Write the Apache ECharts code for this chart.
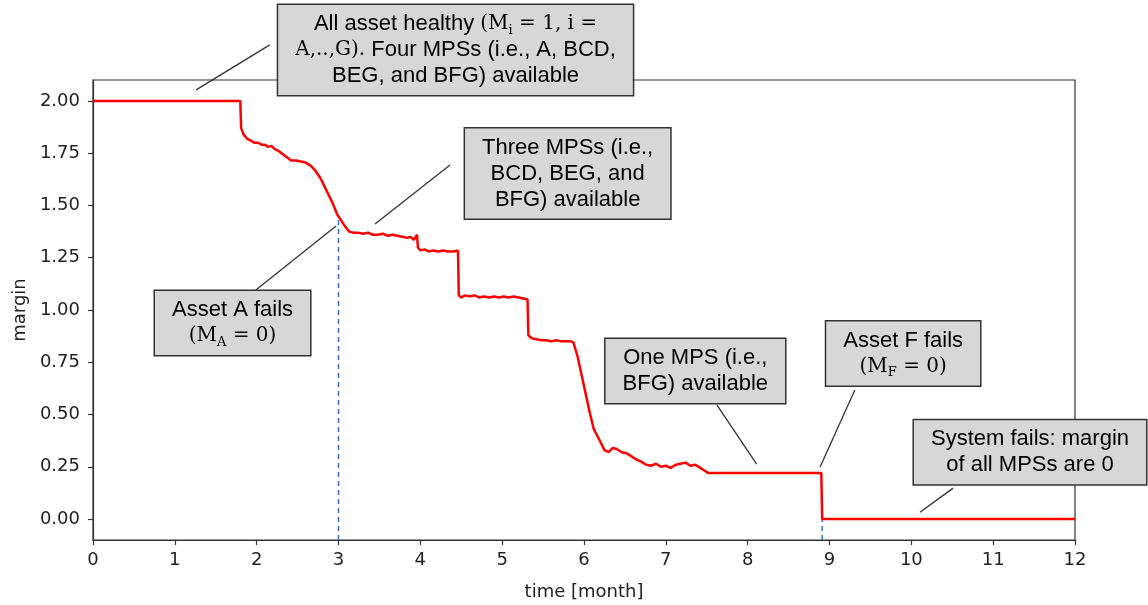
<!DOCTYPE html>
<html>
<head>
<meta charset="utf-8">
<script src="https://cdn.jsdelivr.net/npm/echarts@6/dist/echarts.min.js"></script>
<style>
  html, body { margin: 0; padding: 0; background: #fff; }
  #chart { width: 1148px; height: 605px; }
</style>
</head>
<body>
<div id="chart"></div>
<script>
// Margin of the system over time (months)
const timeMonths = [
  0, 1.80, 1.81, 1.84, 1.88, 1.93, 1.97, 2.02, 2.06, 2.10, 2.14, 2.18, 2.22, 2.27, 2.32, 2.37,
  2.42, 2.48, 2.54, 2.60, 2.66, 2.72, 2.78, 2.83, 2.88, 2.93, 2.98, 3.03, 3.08, 3.13, 3.18,
  3.24, 3.30, 3.36, 3.42, 3.48, 3.54, 3.60, 3.66, 3.72, 3.78, 3.84, 3.88, 3.92, 3.96, 3.97,
  4.00, 4.05, 4.10, 4.16, 4.22, 4.28, 4.34, 4.40, 4.46, 4.47, 4.50, 4.55, 4.60, 4.66, 4.72,
  4.78, 4.84, 4.90, 4.96, 5.02, 5.08, 5.14, 5.20, 5.26, 5.31, 5.32, 5.36, 5.42, 5.48, 5.54,
  5.60, 5.66, 5.72, 5.78, 5.84, 5.87, 5.92, 5.97, 6.02, 6.07, 6.12, 6.16, 6.20, 6.25, 6.30,
  6.35, 6.40, 6.46, 6.52, 6.58, 6.64, 6.70, 6.76, 6.82, 6.88, 6.94, 7.00, 7.06, 7.12, 7.18,
  7.24, 7.30, 7.36, 7.42, 7.48, 7.52, 7.60, 8.90, 8.91, 12
];
const marginValues = [
  2.00, 2.00, 1.87, 1.84, 1.82, 1.81, 1.80, 1.80, 1.79, 1.79, 1.78, 1.785, 1.77, 1.76, 1.745, 1.73,
  1.715, 1.715, 1.71, 1.705, 1.69, 1.665, 1.63, 1.59, 1.55, 1.51, 1.46, 1.43, 1.40, 1.375, 1.37,
  1.37, 1.365, 1.37, 1.36, 1.36, 1.365, 1.355, 1.36, 1.355, 1.35, 1.345, 1.35, 1.335, 1.36, 1.30,
  1.285, 1.29, 1.28, 1.285, 1.28, 1.285, 1.28, 1.28, 1.285, 1.07, 1.06, 1.07, 1.065, 1.07, 1.06,
  1.065, 1.06, 1.065, 1.06, 1.065, 1.06, 1.065, 1.06, 1.055, 1.05, 0.88, 0.865, 0.86, 0.855, 0.855,
  0.85, 0.855, 0.85, 0.85, 0.85, 0.845, 0.78, 0.69, 0.60, 0.51, 0.43, 0.40, 0.37, 0.33, 0.32,
  0.34, 0.335, 0.32, 0.315, 0.30, 0.285, 0.275, 0.26, 0.255, 0.265, 0.25, 0.255, 0.245, 0.26, 0.265,
  0.27, 0.255, 0.26, 0.245, 0.23, 0.22, 0.22, 0.22, 0.00, 0.00
];

// Asset failure events: time and margin reached at that moment
const failTimes = [3.0, 8.91];
const failMargins = [1.44, 0.0];

const xTicks = [0, 1, 2, 3, 4, 5, 6, 7, 8, 9, 10, 11, 12];
const yTicks = [0, 0.25, 0.5, 0.75, 1.0, 1.25, 1.5, 1.75, 2.0];
const yMin = -0.1, yMax = 2.1;

// Callouts: box centre and leader line, all in data units
const notes = [
  { text: '{t|All asset healthy }{m|(M}{s|i}{m| = 1, i =}\n{m|A,..,G).}{t| Four MPSs (i.e., A, BCD,}\n{t|BEG, and BFG) available}',
    at: [4.43, 2.244], from: [1.26, 2.053], to: [2.16, 2.268] },
  { text: '{t|Three MPSs (i.e.,}\n{t|BCD, BEG, and}\n{t|BFG) available}',
    at: [5.80, 1.653], from: [3.446, 1.411], to: [4.363, 1.694] },
  { text: '{t|Asset A fails}\n{m|(M}{s|A}{m| = 0)}',
    at: [1.705, 0.938], from: [1.99, 1.096], to: [2.97, 1.402] },
  { text: '{t|One MPS (i.e.,}\n{t|BFG) available}',
    at: [7.36, 0.708], from: [7.625, 0.545], to: [8.11, 0.263] },
  { text: '{t|Asset F fails}\n{m|(M}{s|F}{m| = 0)}',
    at: [9.90, 0.792], from: [9.31, 0.617], to: [8.885, 0.249] },
  { text: '{t|System fails: margin}\n{t|of all MPSs are 0}',
    at: [11.45, 0.32], from: [10.51, 0.148], to: [10.106, 0.033] }
];

const chart = echarts.init(document.getElementById('chart'), null, { renderer: 'canvas' });
const axisFont = 'DejaVu Sans';

const series = [{
  type: 'line',
  data: timeMonths.map((t, i) => [t, marginValues[i]]),
  showSymbol: false,
  lineStyle: { color: '#ff0000', width: 2.5 },
  z: 3,
  animation: false
}];
failTimes.forEach((t, i) => {
  series.push({
    type: 'line',
    data: [[t, yMin], [t, failMargins[i]]],
    showSymbol: false,
    lineStyle: { color: '#3a6fd2', width: 1.5, type: [5, 4] },
    z: 2,
    animation: false
  });
});

chart.setOption({
  animation: false,
  backgroundColor: '#ffffff',
  grid: { left: 93, right: 73, top: 80, bottom: 65, outerBoundsMode: 'none', containLabel: false,
    show: true, borderColor: '#333', borderWidth: 1.2, backgroundColor: 'transparent' },
  xAxis: {
    type: 'value', min: 0, max: 12, interval: 1,
    name: 'time [month]', nameLocation: 'middle', nameGap: 43,
    nameTextStyle: { fontFamily: axisFont, fontSize: 18, color: '#222' },
    axisLine: { show: true, onZero: false, lineStyle: { color: '#333', width: 1.2 } },
    axisTick: { show: true, length: 5, lineStyle: { color: '#333', width: 1.2 } },
    axisLabel: { fontFamily: axisFont, fontSize: 18, color: '#222', margin: 11 },
    splitLine: { show: false }
  },
  yAxis: {
    type: 'value', min: yMin, max: yMax,
    name: 'margin', nameLocation: 'middle', nameGap: 63, nameRotate: 90,
    nameTextStyle: { fontFamily: axisFont, fontSize: 18, color: '#222' },
    axisLine: { show: true, onZero: false, lineStyle: { color: '#333', width: 1.2 } },
    axisTick: { show: true, length: 5, customValues: yTicks, lineStyle: { color: '#333', width: 1.2 } },
    axisLabel: { fontFamily: axisFont, fontSize: 18, color: '#222', margin: 13, customValues: yTicks,
      formatter: v => v.toFixed(2) },
    splitLine: { show: false }
  },
  series: series
});

function drawNotes() {
  const px = p => chart.convertToPixel({ gridIndex: 0 }, p);
  const graphics = [];
  notes.forEach(n => {
    const a = px(n.from), b = px(n.to);
    graphics.push({
      type: 'line', z: 100,
      shape: { x1: a[0], y1: a[1], x2: b[0], y2: b[1] },
      style: { stroke: '#333', lineWidth: 1.3 }
    });
  });
  notes.forEach(n => {
    const c = px(n.at);
    graphics.push({
      type: 'text', z: 101, x: c[0], y: c[1],
      style: {
        text: n.text,
        align: 'center', verticalAlign: 'middle',
        backgroundColor: '#d7d7d7', borderColor: '#333', borderWidth: 1.5,
        padding: [6, 17],
        rich: {
          t: { fontFamily: 'Liberation Sans', fontSize: 22, lineHeight: 26, color: '#111' },
          m: { fontFamily: 'DejaVu Serif', fontSize: 20, lineHeight: 26, color: '#111' },
          s: { fontFamily: 'DejaVu Serif', fontSize: 13, lineHeight: 14, verticalAlign: 'bottom', color: '#111' }
        }
      }
    });
  });
  chart.setOption({ graphic: graphics });
}
drawNotes();
</script>
</body>
</html>
